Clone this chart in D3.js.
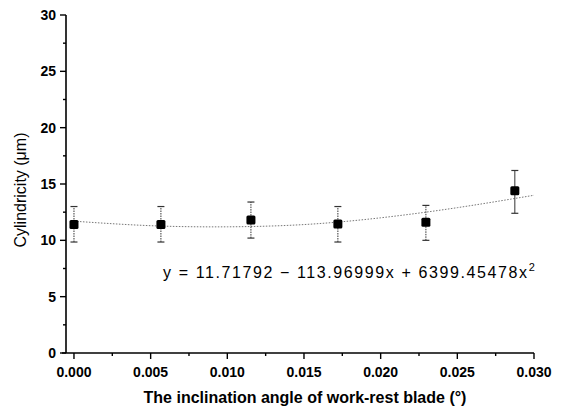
<!DOCTYPE html>
<html>
<head>
<meta charset="utf-8">
<script src="https://cdn.jsdelivr.net/npm/d3@7"></script>
<style>
  body { margin: 0; background: #fff; }
  text { font-family: Arial, "Liberation Sans", sans-serif; fill: #000; }
</style>
</head>
<body>
<div class="chart"></div>
<script>
// measured points
var angles = [0.0, 0.00567, 0.01154, 0.01721, 0.02295, 0.02875];
var cylindricity = [11.4, 11.4, 11.8, 11.45, 11.6, 14.4];
var errLow = [9.85, 9.85, 10.2, 9.85, 10.0, 12.4];
var errHigh = [13.0, 13.0, 13.4, 13.0, 13.1, 16.2];

// dotted fit line
var fitX = [0.0, 0.005, 0.010, 0.015, 0.020, 0.025, 0.030];
var fitY = [11.7, 11.3, 11.2, 11.4, 12.0, 12.9, 14.0];

var xTicks = [0.000, 0.005, 0.010, 0.015, 0.020, 0.025, 0.030];
var yTicks = [0, 5, 10, 15, 20, 25, 30];
var equationLabel = "y = 11.71792 \u2212 113.96999x + 6399.45478x";

var svgWidth = 566;
var svgHeight = 409;

var svg = d3.select(".chart")
  .append("svg")
  .attr("width", svgWidth)
  .attr("height", svgHeight);

var xScale = d3.scaleLinear()
  .domain([-0.00052, 0.030])
  .range([66, 534]);

var yScale = d3.scaleLinear()
  .domain([0, 30])
  .range([353, 15]);

// x axis
var xAxis = svg.append("g")
  .attr("transform", `translate(0, ${yScale(0)})`);

xAxis.append("line")
  .attr("x1", xScale.range()[0] - 4)
  .attr("x2", xScale.range()[1])
  .attr("stroke", "#000")
  .attr("stroke-width", 1.6);

xAxis.selectAll(".minor")
  .data(d3.range(0.0025, 0.030, 0.005))
  .enter()
  .append("line")
  .attr("x1", d => xScale(d))
  .attr("x2", d => xScale(d))
  .attr("y1", 0)
  .attr("y2", 3)
  .attr("stroke", "#000")
  .attr("stroke-width", 1.4);

xAxis.selectAll(".major")
  .data(xTicks)
  .enter()
  .append("line")
  .attr("x1", d => xScale(d))
  .attr("x2", d => xScale(d))
  .attr("y1", 0)
  .attr("y2", 6)
  .attr("stroke", "#000")
  .attr("stroke-width", 1.4);

xAxis.selectAll(".lbl")
  .data(xTicks)
  .enter()
  .append("text")
  .attr("x", d => xScale(d))
  .attr("y", 24)
  .attr("text-anchor", "middle")
  .style("font-size", "14px")
  .style("font-weight", "bold")
  .text(d => d3.format(".3f")(d));

// y axis
var yAxis = svg.append("g")
  .attr("transform", `translate(${xScale.range()[0]}, 0)`);

yAxis.append("line")
  .attr("y1", yScale(0))
  .attr("y2", yScale(30))
  .attr("stroke", "#000")
  .attr("stroke-width", 1.6);

yAxis.selectAll(".minor")
  .data(d3.range(2.5, 30, 5))
  .enter()
  .append("line")
  .attr("x1", 0)
  .attr("x2", -3)
  .attr("y1", d => yScale(d))
  .attr("y2", d => yScale(d))
  .attr("stroke", "#000")
  .attr("stroke-width", 1.4);

yAxis.selectAll(".major")
  .data(yTicks)
  .enter()
  .append("line")
  .attr("x1", 0)
  .attr("x2", -6)
  .attr("y1", d => yScale(d))
  .attr("y2", d => yScale(d))
  .attr("stroke", "#000")
  .attr("stroke-width", 1.4);

yAxis.selectAll(".lbl")
  .data(yTicks)
  .enter()
  .append("text")
  .attr("x", -10)
  .attr("y", d => yScale(d))
  .attr("dy", "0.35em")
  .attr("text-anchor", "end")
  .style("font-size", "14px")
  .style("font-weight", "bold")
  .text(d => d);

// fit curve
var fitLine = d3.line()
  .x(d => xScale(d[0]))
  .y(d => yScale(d[1]))
  .curve(d3.curveNatural);

svg.append("path")
  .datum(d3.zip(fitX, fitY))
  .attr("d", fitLine)
  .attr("fill", "none")
  .attr("stroke", "#777")
  .attr("stroke-width", 1)
  .attr("stroke-dasharray", "1.5,1.5");

// error bars
var points = angles.map((a, i) => ({
  x: a, y: cylindricity[i], lo: errLow[i], hi: errHigh[i]
}));

var bars = svg.selectAll(".err")
  .data(points)
  .enter()
  .append("g");

bars.append("line")
  .attr("x1", d => xScale(d.x))
  .attr("x2", d => xScale(d.x))
  .attr("y1", d => yScale(d.lo))
  .attr("y2", d => yScale(d.hi))
  .attr("stroke", "#333")
  .attr("stroke-width", 1)
  .attr("stroke-dasharray", (d, i) => i === 5 ? null : "1.5,1");

bars.selectAll(".cap")
  .data(d => [[d.x, d.lo], [d.x, d.hi]])
  .enter()
  .append("line")
  .attr("x1", d => xScale(d[0]) - 3.5)
  .attr("x2", d => xScale(d[0]) + 3.5)
  .attr("y1", d => yScale(d[1]))
  .attr("y2", d => yScale(d[1]))
  .attr("stroke", "#333")
  .attr("stroke-width", 1.2);

// markers
svg.selectAll(".pt")
  .data(points)
  .enter()
  .append("rect")
  .attr("x", d => xScale(d.x) - 4.5)
  .attr("y", d => yScale(d.y) - 4.5)
  .attr("width", 9)
  .attr("height", 9)
  .attr("rx", 1.5)
  .attr("fill", "#000");

// equation
var eq = svg.append("text")
  .attr("x", 163)
  .attr("y", 278)
  .style("font-size", "16px")
  .style("letter-spacing", "1.6px");
eq.append("tspan").text(equationLabel);
eq.append("tspan")
  .attr("dy", -7)
  .style("font-size", "11px")
  .text("2");

// axis titles
svg.append("text")
  .attr("x", 305)
  .attr("y", 403)
  .attr("text-anchor", "middle")
  .style("font-size", "16px")
  .style("font-weight", "bold")
  .text("The inclination angle of work-rest blade (\u00b0)");

svg.append("text")
  .attr("transform", "rotate(-90)")
  .attr("x", -190)
  .attr("y", 26)
  .attr("text-anchor", "middle")
  .style("font-size", "16px")
  .text("Cylindricity (\u03bcm)");
</script>
</body>
</html>
